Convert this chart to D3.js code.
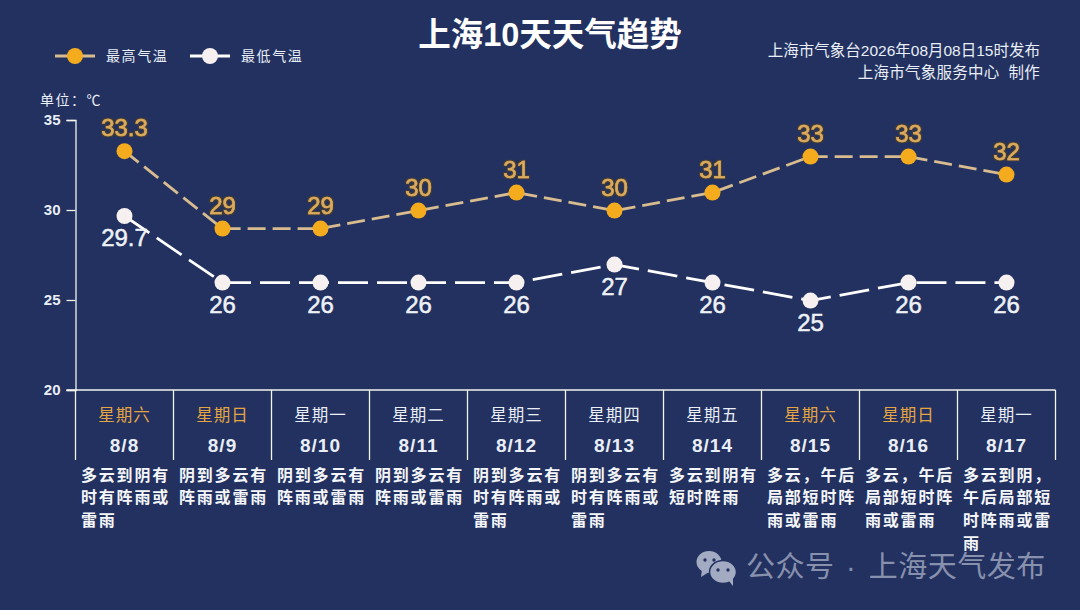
<!DOCTYPE html>
<html>
<head>
<meta charset="utf-8">
<script src="https://cdn.jsdelivr.net/npm/d3@7"></script>
<style>
html, body { margin: 0; padding: 0; background: #22315f; }
svg { display: block; }
text { font-family: "Liberation Sans", "Noto Sans CJK SC", sans-serif; }
</style>
</head>
<body>
<svg id="chart" width="1080" height="610"></svg>
<script>
const dates = ['8/8', '8/9', '8/10', '8/11', '8/12', '8/13', '8/14', '8/15', '8/16', '8/17'];
const weekdays = ['星期六', '星期日', '星期一', '星期二', '星期三', '星期四', '星期五', '星期六', '星期日', '星期一'];
const highTemps = [33.3, 29, 29, 30, 31, 30, 31, 33, 33, 32];
const lowTemps = [29.7, 26, 26, 26, 26, 27, 26, 25, 26, 26];
const yTicks = [20, 25, 30, 35];
const weatherLines = [
    ['多云到阴有', '时有阵雨或', '雷雨'],
    ['阴到多云有', '阵雨或雷雨'],
    ['阴到多云有', '阵雨或雷雨'],
    ['阴到多云有', '阵雨或雷雨'],
    ['阴到多云有', '时有阵雨或', '雷雨'],
    ['阴到多云有', '时有阵雨或', '雷雨'],
    ['多云到阴有', '短时阵雨'],
    ['多云，午后', '局部短时阵', '雨或雷雨'],
    ['多云，午后', '局部短时阵', '雨或雷雨'],
    ['多云到阴，', '午后局部短', '时阵雨或雷', '雨']
];

const orange = '#f5ab1e';
const orangeLine = '#d8bc8f';
const orangeText = '#dcab5f';
const white = '#f6f1f0';
const textColor = '#e9eef7';

const svg = d3.select('#chart');
const margin = { top: 120.6, left: 75.5, right: 1055.5, bottom: 390.6 };

const xScale = d3.scaleBand()
    .domain(dates)
    .range([margin.left, margin.right]);
const yScale = d3.scaleLinear()
    .domain([20, 35])
    .range([margin.bottom, margin.top]);
const xCenter = d => xScale(d) + xScale.bandwidth() / 2;

const defs = svg.append('defs');
const glow = defs.append('filter').attr('id', 'dark-glow')
    .attr('x', '-30%').attr('y', '-30%').attr('width', '160%').attr('height', '160%');
glow.append('feMorphology').attr('in', 'SourceAlpha').attr('operator', 'dilate').attr('radius', 1).attr('result', 'fat');
glow.append('feFlood').attr('flood-color', '#4a3f2c').attr('flood-opacity', 0.9);
glow.append('feComposite').attr('in2', 'fat').attr('operator', 'in').attr('result', 'edge');
const merge = glow.append('feMerge');
merge.append('feMergeNode').attr('in', 'edge');
merge.append('feMergeNode').attr('in', 'SourceGraphic');

// Title and notes
svg.append('text')
    .attr('x', 550).attr('y', 46)
    .attr('text-anchor', 'middle')
    .attr('font-size', 32.5).attr('font-weight', 'bold')
    .attr('fill', '#ffffff')
    .text('上海10天天气趋势');

svg.selectAll('.note')
    .data(['上海市气象台2026年08月08日15时发布', '上海市气象服务中心  制作'])
    .enter().append('text')
    .attr('class', 'note')
    .attr('x', 1040).attr('y', (d, i) => 56 + i * 22)
    .attr('text-anchor', 'end')
    .attr('font-size', 15.5)
    .attr('letter-spacing', (d, i) => i === 1 ? 0.25 : 0)
    .attr('fill', textColor)
    .style('white-space', 'pre')
    .text(d => d);

svg.append('text')
    .attr('x', 40).attr('y', 105)
    .attr('font-size', 14).attr('letter-spacing', 1.5)
    .attr('fill', textColor)
    .text('单位：℃');

// Legend
const legendItems = [
    { label: '最高气温', x: 55, line: orangeLine, dot: orange },
    { label: '最低气温', x: 190, line: '#ffffff', dot: white }
];
const legend = svg.selectAll('.legend')
    .data(legendItems)
    .enter().append('g')
    .attr('class', 'legend')
    .attr('transform', d => `translate(${d.x}, 56)`);
legend.append('line')
    .attr('x1', 0).attr('x2', 40)
    .attr('stroke', d => d.line).attr('stroke-width', 3);
legend.append('circle')
    .attr('cx', 20).attr('r', 8)
    .attr('fill', d => d.dot);
legend.append('text')
    .attr('x', 51).attr('y', 5)
    .attr('font-size', 14).attr('letter-spacing', 1.6)
    .attr('fill', textColor)
    .text(d => d.label);

// Axes
const yAxis = svg.append('g')
    .attr('transform', `translate(${margin.left}, -0.6)`)
    .call(d3.axisLeft(yScale).tickValues(yTicks).tickSize(9).tickPadding(6));
yAxis.select('.domain').attr('stroke', '#f2f5ee').attr('stroke-width', 1.3);
yAxis.selectAll('line').attr('stroke', '#f2f5ee').attr('stroke-width', 1.3);
yAxis.selectAll('text')
    .attr('font-size', 15).attr('font-weight', 'bold')
    .attr('fill', textColor)
    .style('font-family', '"Liberation Sans", sans-serif');

const xAxis = svg.append('g')
    .attr('transform', `translate(0, ${margin.bottom - 0.6})`);
xAxis.append('line')
    .attr('x1', margin.left - 9).attr('x2', margin.right)
    .attr('stroke', '#f2f5ee').attr('stroke-width', 1.3);
xAxis.selectAll('.sep')
    .data(dates.concat(['end']))
    .enter().append('line')
    .attr('class', 'sep')
    .attr('x1', d => d === 'end' ? margin.right : xScale(d))
    .attr('x2', d => d === 'end' ? margin.right : xScale(d))
    .attr('y1', 0).attr('y2', 70)
    .attr('stroke', '#f2f5ee').attr('stroke-width', 1.3);

// Category table
svg.selectAll('.weekday')
    .data(dates)
    .enter().append('text')
    .attr('class', 'weekday')
    .attr('x', d => xCenter(d)).attr('y', 421)
    .attr('text-anchor', 'middle')
    .attr('font-size', 16.5).attr('letter-spacing', 1)
    .attr('fill', (d, i) => (weekdays[i] === '星期六' || weekdays[i] === '星期日') ? '#e5a542' : textColor)
    .text((d, i) => weekdays[i]);

svg.selectAll('.date')
    .data(dates)
    .enter().append('text')
    .attr('class', 'date')
    .attr('x', d => xCenter(d)).attr('y', 452)
    .attr('text-anchor', 'middle')
    .attr('font-size', 19).attr('font-weight', 'bold').attr('letter-spacing', 1)
    .attr('fill', textColor)
    .text(d => d);

const descGroup = svg.selectAll('.desc')
    .data(dates)
    .enter().append('g')
    .attr('class', 'desc')
    .attr('transform', d => `translate(${xScale(d) + 5.5}, 0)`);
descGroup.selectAll('text')
    .data((d, i) => weatherLines[i])
    .enter().append('text')
    .attr('x', 0).attr('y', (d, i) => 480.5 + i * 22.7)
    .attr('font-size', 16).attr('font-weight', 'bold').attr('letter-spacing', 1.8)
    .attr('fill', '#f4f6fa')
    .text(d => d);

// Lines and points
const series = [
    { values: highTemps, line: orangeLine, dot: orange, text: orangeText, dy: -15, dash: '18 7', filter: 'url(#dark-glow)' },
    { values: lowTemps, line: '#ffffff', dot: white, text: '#eef1f6', dy: 30, dash: '30 9', filter: null }
];
const lineGen = d3.line()
    .x((d, i) => xCenter(dates[i]))
    .y(d => yScale(d));

series.forEach(s => {
    svg.append('path')
        .datum(s.values)
        .attr('d', lineGen)
        .attr('fill', 'none')
        .attr('stroke', s.line)
        .attr('stroke-width', 2.8)
        .attr('stroke-dasharray', s.dash);
    svg.append('g').selectAll('circle')
        .data(s.values)
        .enter().append('circle')
        .attr('cx', (d, i) => xCenter(dates[i]))
        .attr('cy', d => yScale(d))
        .attr('r', 8)
        .attr('fill', s.dot);
    svg.append('g').selectAll('text')
        .data(s.values)
        .enter().append('text')
        .attr('x', (d, i) => xCenter(dates[i]))
        .attr('y', d => yScale(d) + s.dy)
        .attr('text-anchor', 'middle')
        .attr('font-size', 24)
        .attr('fill', s.text)
        .attr('stroke', s.text)
        .attr('stroke-width', 0.5)
        .attr('filter', s.filter)
        .text(d => d);
});

// Watermark
const mark = svg.append('g').attr('fill', '#a3abc3');
const bubbles = mark.append('g').attr('transform', 'translate(697, 551)');
bubbles.append('ellipse').attr('cx', 12).attr('cy', 11).attr('rx', 12.5).attr('ry', 11);
bubbles.append('path').attr('d', 'M5 18 L4 26 L12 21 Z');
bubbles.append('ellipse').attr('cx', 26).attr('cy', 21).attr('rx', 13.5).attr('ry', 11.5)
    .attr('stroke', '#22315f').attr('stroke-width', 1.5);
bubbles.append('path').attr('d', 'M32 30 L36 35 L36 27 Z');
[[8, 9], [17, 9], [21, 19], [31, 19]].forEach(p => {
    bubbles.append('circle').attr('cx', p[0]).attr('cy', p[1]).attr('r', 1.7).attr('fill', '#22315f');
});
const markText = mark.append('text')
    .attr('x', 746).attr('y', 577)
    .attr('font-size', 29)
    .attr('letter-spacing', 0.5)
    .attr('fill', '#8790ad');
markText.append('tspan').text('公众号');
markText.append('tspan').attr('dx', 3).text(' · ');
markText.append('tspan').attr('dx', 4).text('上海天气发布');
</script>
</body>
</html>
